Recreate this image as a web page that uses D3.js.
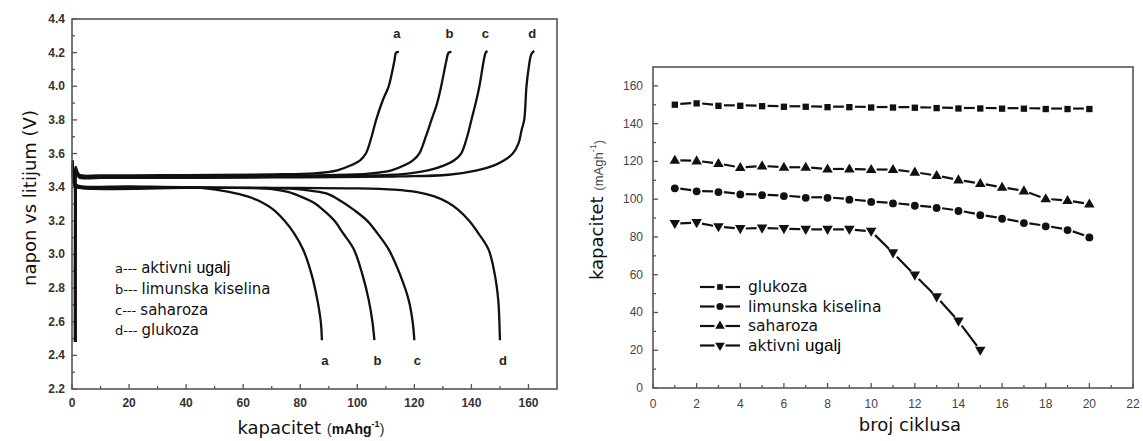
<!DOCTYPE html>
<html><head><meta charset="utf-8">
<script src="https://cdn.jsdelivr.net/npm/d3@7"></script>
<style>body{margin:0;background:#fff}svg{display:block}</style>
</head><body><svg id="c" width="1143" height="441"></svg>
<script>
// ---------- Left chart data (capacity mAh/g, voltage V) ----------
const curveNames = ["a","b","c","d"];
const legendLeft = ["aktivni ","limunska kiselina","saharoza","glukoza"];
const chargeA = [[1.0,2.48],[1.05,3.3],[1.3,3.52],[2.5,3.475],[10,3.47],[40,3.472],[70,3.476],[85,3.482],[93,3.5],[97.8,3.53],[101,3.56],[103,3.6],[105,3.7],[106.6,3.8],[109,3.92],[111,4.0],[113,4.15],[113.6,4.2],[114.6,4.205]];
const chargeB = [[1.1,2.48],[1.15,3.3],[1.4,3.5],[2.5,3.468],[10,3.465],[50,3.467],[90,3.472],[104,3.48],[112,3.5],[116.5,3.53],[119.5,3.56],[121.7,3.6],[124,3.7],[126,3.8],[128,3.9],[129.4,4.0],[131.2,4.15],[132,4.2],[133,4.205]];
const chargeC = [[1.2,2.48],[1.25,3.3],[1.5,3.49],[2.5,3.462],[10,3.46],[60,3.462],[100,3.468],[116,3.478],[124.8,3.5],[130.5,3.53],[134,3.56],[136.4,3.6],[138.5,3.7],[140,3.8],[141.5,3.9],[142.8,4.0],[144.3,4.15],[145,4.2],[145.6,4.21]];
const chargeD = [[1.3,2.48],[1.35,3.3],[1.6,3.48],[2.5,3.457],[10,3.455],[70,3.458],[115,3.464],[132,3.474],[142,3.5],[148,3.53],[151.5,3.56],[154.5,3.6],[156.5,3.66],[157.6,3.74],[158.5,3.8],[159.3,4.0],[160,4.1],[161,4.19],[162,4.21]];
const dischA = [[0.3,3.56],[0.8,3.43],[2,3.41],[20,3.405],[40,3.40],[46,3.395],[55,3.372],[61.5,3.345],[66.5,3.31],[70.7,3.265],[74.5,3.2],[77.8,3.127],[81,3.03],[84,2.88],[86,2.73],[87.2,2.6],[87.6,2.49]];
const dischB = [[0.3,3.55],[0.8,3.42],[2,3.405],[40,3.40],[62,3.395],[70.7,3.387],[76,3.37],[80,3.345],[84.5,3.31],[88,3.265],[92,3.2],[95,3.127],[98.8,3.03],[101.8,2.88],[104,2.73],[105.3,2.6],[106,2.49]];
const dischC = [[0.3,3.54],[0.8,3.415],[2,3.40],[40,3.398],[68,3.395],[78,3.39],[84,3.378],[89.6,3.36],[94.5,3.315],[98.8,3.265],[103.5,3.2],[107,3.127],[111,3.03],[115,2.88],[118,2.73],[119.4,2.6],[120,2.49]];
const dischD = [[0.3,3.53],[0.8,3.41],[2,3.397],[40,3.396],[80,3.395],[100,3.393],[113,3.385],[121,3.37],[127,3.345],[131.6,3.31],[135.4,3.265],[139.2,3.2],[142.4,3.127],[146,3.03],[148.2,2.88],[149.4,2.73],[149.8,2.6],[150,2.49]];
const leftXTicks = [0,20,40,60,80,100,120,140,160];
const leftYTicks = ["2.2","2.4","2.6","2.8","3.0","3.2","3.4","3.6","3.8","4.0","4.2","4.4"];

// ---------- Right chart data (cycle, capacity) ----------
const cycles = [1,2,3,4,5,6,7,8,9,10,11,12,13,14,15,16,17,18,19,20];
const glukoza = [150.3,151,149.7,149.7,149.5,149.2,149.2,149,149,148.8,148.8,148.7,148.5,148.3,148.3,148.2,148.2,148,148,148];
const limunska = [106,104.4,104,102.8,102.4,101.9,101,101,100,98.8,98,96.8,95.6,94,91.8,89.9,87.6,85.9,83.9,80];
const saharoza = [120.6,120.3,118.9,116.8,117.6,116.9,116.9,116,116,115.7,115.7,114.3,112.5,110.2,108.3,106.3,104.4,100.2,99.3,97.4];
const aktivni = [87.1,87.6,85.4,84.4,84.7,84.4,84,84,84,83,71.6,59.8,48.3,35.4,20];
const rightLegend = ["glukoza","limunska kiselina","saharoza","aktivni "];
const rightXTicks = [0,2,4,6,8,10,12,14,16,18,20,22];
const rightYTicks = [0,20,40,60,80,100,120,140,160];

const svg = d3.select("#c");
const frameCol = "#555";

// ================= LEFT CHART =================
const lx = d3.scaleLinear().domain([0,170]).range([72,557]);
const ly = d3.scaleLinear().domain([2.2,4.4]).range([389,19]);
const L = svg.append("g");

const lxMinor = d3.range(10,170,20);
L.selectAll(".lxM").data(leftXTicks).enter().append("line")
  .attr("x1",d=>lx(d)).attr("x2",d=>lx(d)).attr("y1",ly(2.2)).attr("y2",ly(2.2)-5)
  .attr("stroke",frameCol).attr("stroke-width",1.3);
L.selectAll(".lxm").data(lxMinor).enter().append("line")
  .attr("x1",d=>lx(d)).attr("x2",d=>lx(d)).attr("y1",ly(2.2)).attr("y2",ly(2.2)-3)
  .attr("stroke",frameCol).attr("stroke-width",1.3);
L.selectAll(".lxl").data(leftXTicks).enter().append("text")
  .attr("x",d=>lx(d)).attr("y",407).attr("text-anchor","middle")
  .attr("font-family","Liberation Sans, Arial, sans-serif").attr("font-size",12).attr("font-weight","bold").attr("fill","#333")
  .text(d=>d);
const lyMinor = leftYTicks.slice(0,-1).map(d=>+d+0.1);
L.selectAll(".lyM").data(leftYTicks).enter().append("line")
  .attr("x1",lx(0)).attr("x2",lx(0)+5).attr("y1",d=>ly(+d)).attr("y2",d=>ly(+d))
  .attr("stroke",frameCol).attr("stroke-width",1.3);
L.selectAll(".lym").data(lyMinor).enter().append("line")
  .attr("x1",lx(0)).attr("x2",lx(0)+3).attr("y1",d=>ly(d)).attr("y2",d=>ly(d))
  .attr("stroke",frameCol).attr("stroke-width",1.3);
L.selectAll(".lyl").data(leftYTicks).enter().append("text")
  .attr("x",65).attr("y",d=>ly(+d)+4).attr("text-anchor","end")
  .attr("font-family","Liberation Sans, Arial, sans-serif").attr("font-size",12).attr("font-weight","bold").attr("fill","#333")
  .text(d=>d);

// curves
const lline = d3.line().x(d=>lx(d[0])).y(d=>ly(d[1])).curve(d3.curveCatmullRom.alpha(0.5));
[chargeA,chargeB,chargeC,chargeD,dischA,dischB,dischC,dischD].forEach(s=>{
  L.append("path").attr("d",lline(s)).attr("fill","none").attr("stroke","#111").attr("stroke-width",2.3).attr("stroke-linejoin","round");
});

// curve letters
const topEnds = [chargeA,chargeB,chargeC,chargeD].map(s=>s[s.length-1]);
const botEnds = [dischA,dischB,dischC,dischD].map(s=>s[s.length-1]);
L.selectAll(".tl").data(curveNames).enter().append("text")
  .attr("x",(d,i)=>lx(topEnds[i][0])-2).attr("y",38).attr("text-anchor","middle")
  .attr("font-family","Liberation Sans, Arial, sans-serif").attr("font-size",13).attr("font-weight","bold").attr("fill","#222").text(d=>d);
L.selectAll(".bl").data(curveNames).enter().append("text")
  .attr("x",(d,i)=>lx(botEnds[i][0])+3).attr("y",365).attr("text-anchor","middle")
  .attr("font-family","Liberation Sans, Arial, sans-serif").attr("font-size",13).attr("font-weight","bold").attr("fill","#222").text(d=>d);

// legend
const lg = L.selectAll(".lg").data(legendLeft).enter().append("text")
  .attr("x",115).attr("y",(d,i)=>273+i*20.8)
  .attr("font-family","DejaVu Sans, Verdana, sans-serif").attr("font-size",15).attr("fill","#111");
lg.append("tspan").attr("font-size",13).text((d,i)=>curveNames[i]+"--- ");
lg.append("tspan").text(d=>d);
lg.filter((d,i)=>i===0).append("tspan").attr("font-family","Liberation Sans, Arial, sans-serif").attr("font-size",16).attr("fill","#000").text("ugalj");

// frame
L.append("rect").attr("x",lx(0)).attr("y",ly(4.4)).attr("width",lx(170)-lx(0)).attr("height",ly(2.2)-ly(4.4))
  .attr("fill","none").attr("stroke",frameCol).attr("stroke-width",1.6);

// axis titles
L.append("text").attr("transform","translate(36,198) rotate(-90)").attr("text-anchor","middle")
  .attr("font-family","DejaVu Sans, Verdana, sans-serif").attr("font-size",18).attr("fill","#111").text("napon vs litijum (V)");
const lxt = L.append("text").attr("x",311).attr("y",434).attr("text-anchor","middle")
  .attr("font-family","DejaVu Sans, Verdana, sans-serif").attr("font-size",18).attr("fill","#111");
lxt.append("tspan").text("kapacitet ");
lxt.append("tspan").attr("font-family","Liberation Sans, Arial, sans-serif").attr("font-size",15).attr("fill","#333").text(" (");
lxt.append("tspan").attr("font-family","Liberation Sans, Arial, sans-serif").attr("font-weight","bold").attr("font-size",14).text("mAhg");
lxt.append("tspan").attr("font-family","Liberation Sans, Arial, sans-serif").attr("font-weight","bold").attr("font-size",9).attr("dy",-7).text("-1");
lxt.append("tspan").attr("font-family","Liberation Sans, Arial, sans-serif").attr("font-size",15).attr("fill","#333").attr("dy",7).text(")");

// ================= RIGHT CHART =================
const rx = d3.scaleLinear().domain([0,22]).range([653,1133]);
const ry = d3.scaleLinear().domain([0,170]).range([388,67]);
const R = svg.append("g");

R.selectAll(".rxM").data(rightXTicks).enter().append("line")
  .attr("x1",d=>rx(d)).attr("x2",d=>rx(d)).attr("y1",ry(0)).attr("y2",ry(0)-5)
  .attr("stroke",frameCol).attr("stroke-width",1.3);
R.selectAll(".rxm").data(d3.range(1,22,2)).enter().append("line")
  .attr("x1",d=>rx(d)).attr("x2",d=>rx(d)).attr("y1",ry(0)).attr("y2",ry(0)-3)
  .attr("stroke",frameCol).attr("stroke-width",1.3);
R.selectAll(".rxl").data(rightXTicks).enter().append("text")
  .attr("x",d=>rx(d)).attr("y",408).attr("text-anchor","middle")
  .attr("font-family","Liberation Sans, Arial, sans-serif").attr("font-size",12).attr("fill","#444")
  .text(d=>d);
R.selectAll(".ryM").data(rightYTicks).enter().append("line")
  .attr("x1",rx(0)).attr("x2",rx(0)+5).attr("y1",d=>ry(d)).attr("y2",d=>ry(d))
  .attr("stroke",frameCol).attr("stroke-width",1.3);
R.selectAll(".rym").data(d3.range(10,170,20)).enter().append("line")
  .attr("x1",rx(0)).attr("x2",rx(0)+3).attr("y1",d=>ry(d)).attr("y2",d=>ry(d))
  .attr("stroke",frameCol).attr("stroke-width",1.3);
R.selectAll(".ryl").data(rightYTicks).enter().append("text")
  .attr("x",643).attr("y",d=>ry(d)+4).attr("text-anchor","end")
  .attr("font-family","Liberation Sans, Arial, sans-serif").attr("font-size",12).attr("fill","#444")
  .text(d=>d);

const seriesList = [
  {vals:glukoza, sym:d3.symbolSquare, size:40},
  {vals:limunska, sym:d3.symbolCircle, size:48},
  {vals:saharoza, sym:d3.symbolTriangle, size:48},
  {vals:aktivni, sym:d3.symbolTriangle, size:48, flip:true}
];
const gap = 5.5;
function gappedSeg(g,x1,y1,x2,y2){
  const dx=x2-x1, dy=y2-y1, len=Math.hypot(dx,dy);
  if(len<=2*gap) return;
  const ux=dx/len, uy=dy/len;
  g.append("line").attr("x1",x1+ux*gap).attr("y1",y1+uy*gap).attr("x2",x2-ux*gap).attr("y2",y2-uy*gap)
    .attr("stroke","#111").attr("stroke-width",2.2);
}
seriesList.forEach(s=>{
  const pts = s.vals.map((v,i)=>[rx(cycles[i]),ry(v)]);
  for(let i=0;i<pts.length-1;i++) gappedSeg(R,pts[i][0],pts[i][1],pts[i+1][0],pts[i+1][1]);
  R.selectAll(null).data(pts).enter().append("path")
    .attr("d",d3.symbol().type(s.sym).size(s.size))
    .attr("transform",d=>`translate(${d[0]},${d[1]+(s.flip?-0.5:0.5)})${s.flip?" rotate(180)":""}`)
    .attr("fill","#111");
});

// legend
const lgx0 = 700, lgx1 = 740, lgTextX = 748;
rightLegend.forEach((name,i)=>{
  const yy = 287 + i*19.5;
  const s = seriesList[i];
  gappedSeg(R,lgx0-gap,yy,(lgx0+lgx1)/2,yy);
  gappedSeg(R,(lgx0+lgx1)/2,yy,lgx1+gap,yy);
  R.append("path").attr("d",d3.symbol().type(s.sym).size(s.size-8))
    .attr("transform",`translate(${(lgx0+lgx1)/2},${yy})${s.flip?" rotate(180)":""}`).attr("fill","#111");
  const t = R.append("text").attr("x",lgTextX).attr("y",yy+5)
    .attr("font-family","DejaVu Sans, Verdana, sans-serif").attr("font-size",15.5).attr("fill","#111").text(name);
  if(i===3) t.append("tspan").attr("font-family","Liberation Sans, Arial, sans-serif").attr("font-size",17).attr("fill","#000").text("ugalj");
});

// frame
R.append("rect").attr("x",rx(0)).attr("y",ry(170)).attr("width",rx(22)-rx(0)).attr("height",ry(0)-ry(170))
  .attr("fill","none").attr("stroke",frameCol).attr("stroke-width",1.6);

// titles
R.append("text").attr("x",910).attr("y",431).attr("text-anchor","middle")
  .attr("font-family","DejaVu Sans, Verdana, sans-serif").attr("font-size",18).attr("fill","#111").text("broj ciklusa");
const ryt = R.append("text").attr("transform","translate(603,210) rotate(-90)").attr("text-anchor","middle")
  .attr("font-family","DejaVu Sans, Verdana, sans-serif").attr("font-size",18).attr("fill","#111");
ryt.append("tspan").text("kapacitet ");
ryt.append("tspan").attr("font-family","Liberation Sans, Arial, sans-serif").attr("font-size",13).attr("fill","#666").text(" (");
ryt.append("tspan").attr("font-family","Liberation Sans, Arial, sans-serif").attr("font-size",13).attr("fill","#444").text("mAgh");
ryt.append("tspan").attr("font-family","Liberation Sans, Arial, sans-serif").attr("font-size",9).attr("fill","#444").attr("dy",-7).text("-1");
ryt.append("tspan").attr("font-family","Liberation Sans, Arial, sans-serif").attr("font-size",13).attr("fill","#666").attr("dy",7).text(")");
</script></body></html>
